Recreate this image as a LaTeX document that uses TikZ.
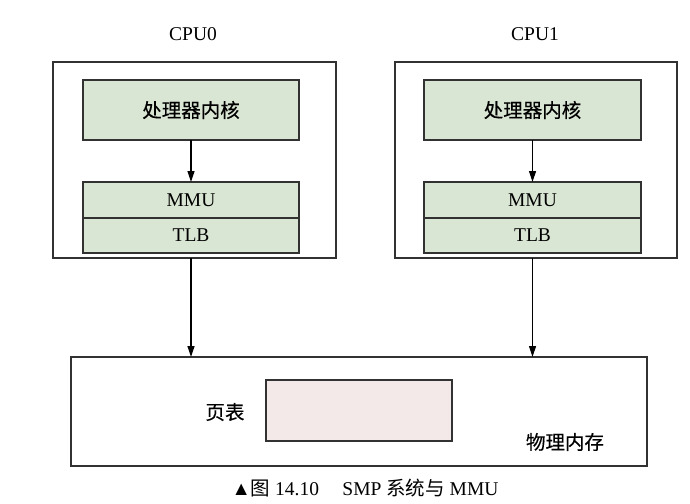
\documentclass[tikz,border=0pt]{standalone}
\usepackage{fontspec}
\setmainfont{Liberation Serif}
\newfontfamily\cjk[FakeBold=0.4]{Noto Sans CJK SC}
\newfontfamily\cjkplain{Noto Sans CJK SC}
\usetikzlibrary{arrows.meta}
\definecolor{boxgreen}{RGB}{218,230,212}
\definecolor{ptpink}{RGB}{243,233,233}
\definecolor{linegray}{RGB}{50,50,50}
\tikzset{
  every node/.style={inner sep=0pt, outer sep=0pt, font=\fontsize{19.5}{22}\selectfont},
  frame/.style={draw=linegray, line width=1.3pt, fill=white},
  greenbox/.style={draw=linegray, line width=1.3pt, fill=boxgreen},
  pagebox/.style={draw=linegray, line width=1.3pt, fill=ptpink},
  conn/.style={draw=black, line width=1.2pt, -{Triangle[length=11pt,width=7pt]}}
}
\begin{document}
\begin{tikzpicture}[x=1pt,y=-1pt]
\useasboundingbox[fill=white] (0,0) rectangle (690,503);
% CPU0
\node[frame, minimum width=283pt, minimum height=196pt] (cpu0) at (194.5,160) {};
\node (cpu0lbl) at (193,34) {CPU0};
\node[greenbox, minimum width=216pt, minimum height=60pt] (core0) at (191,110) {\cjk 处理器内核};
\node[greenbox, minimum width=216pt, minimum height=36pt] (mmu0) at (191,200) {MMU};
\node[greenbox, minimum width=216pt, minimum height=35pt] (tlb0) at (191,235.5) {TLB};
% CPU1
\node[frame, minimum width=282pt, minimum height=196pt] (cpu1) at (536,160) {};
\node (cpu1lbl) at (535,34) {CPU1};
\node[greenbox, minimum width=217pt, minimum height=60pt] (core1) at (532.5,110) {\cjk 处理器内核};
\node[greenbox, minimum width=217pt, minimum height=36pt] (mmu1) at (532.5,200) {MMU};
\node[greenbox, minimum width=217pt, minimum height=35pt] (tlb1) at (532.5,235.5) {TLB};
% Memory
\node[frame, minimum width=576pt, minimum height=109pt] (mem) at (359,411.5) {};
\node[pagebox, minimum width=186pt, minimum height=61pt] (pt) at (359,410.5) {};
\node (ptlbl) at (225,412) {\cjk 页表};
\node (memlbl) at (565,442) {\cjk 物理内存};
% connectors
\draw[conn] (core0.south) -- (mmu0.north);
\draw[conn] (core1.south) -- (mmu1.north);
\draw[conn] (cpu0.south -| tlb0.south) -- (mem.north -| tlb0.south);
\draw[conn] (cpu1.south -| tlb1.south) -- (mem.north -| tlb1.south);
% caption
\node (caption) at (365,488) {▲{\cjkplain 图} 14.10\hspace{1.2em}SMP {\cjkplain 系统与} MMU};
\end{tikzpicture}
\end{document}
